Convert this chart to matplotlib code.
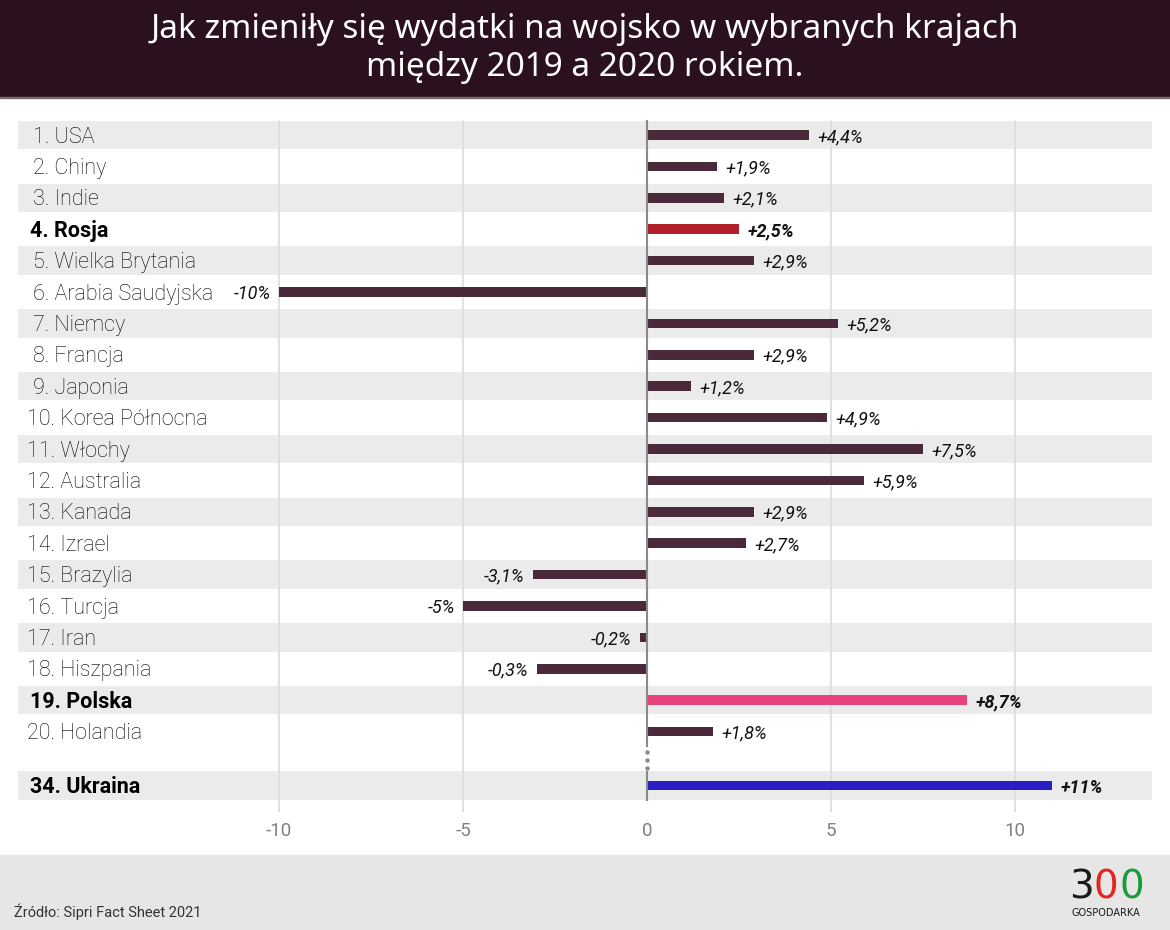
import matplotlib
matplotlib.use("Agg")
import matplotlib.pyplot as plt

# ---------------------------- Data ------------------------------------
countries = ["1. USA", "2. Chiny", "3. Indie", "4. Rosja", "5. Wielka Brytania",
             "6. Arabia Saudyjska", "7. Niemcy", "8. Francja", "9. Japonia",
             "10. Korea Północna", "11. Włochy", "12. Australia", "13. Kanada",
             "14. Izrael", "15. Brazylia", "16. Turcja", "17. Iran",
             "18. Hiszpania", "19. Polska", "20. Holandia", "34. Ukraina"]
values = [4.4, 1.9, 2.1, 2.5, 2.9, -10, 5.2, 2.9, 1.2, 4.9, 7.5, 5.9, 2.9,
          2.7, -3.1, -5, -0.2, -3.0, 8.7, 1.8, 11]
value_labels = ["+4,4%", "+1,9%", "+2,1%", "+2,5%", "+2,9%", "-10%", "+5,2%",
                "+2,9%", "+1,2%", "+4,9%", "+7,5%", "+5,9%", "+2,9%", "+2,7%",
                "-3,1%", "-5%", "-0,2%", "-0,3%", "+8,7%", "+1,8%", "+11%"]
highlight = {"4. Rosja": "#b01f2a", "19. Polska": "#e8437f", "34. Ukraina": "#2a1fc4"}
xticks = [-10, -5, 0, 5, 10]

# row slots (a short gap before Ukraina)
slots = list(range(20)) + [20.72]

W, H = 1170, 930
fig = plt.figure(figsize=(W / 100, H / 100), dpi=100)
fig.patch.set_facecolor("white")

# ------------------------ header / footer -----------------------------
fig.patches.append(plt.Rectangle((0, 1 - 97 / H), 1, 97 / H, transform=fig.transFigure,
                                 color="#2b111f", zorder=0))
fig.patches.append(plt.Rectangle((0, 1 - 98.5 / H), 1, 1.5 / H, transform=fig.transFigure,
                                 color="#7a6a72", zorder=0))
fig.text(0.5, 1 - 29 / H, "Jak zmieniły się wydatki na wojsko w wybranych krajach",
         color="white", fontsize=24, family="Noto Sans", ha="center", va="center")
fig.text(0.5, 1 - 68 / H, "między 2019 a 2020 rokiem.",
         color="white", fontsize=24, family="Noto Sans", ha="center", va="center")

fig.patches.append(plt.Rectangle((0, 0), 1, 75 / H, transform=fig.transFigure,
                                 color="#e6e6e6", zorder=0))
fig.text(14 / W, 1 - 912 / H, "Źródło: Sipri Fact Sheet 2021", fontsize=10.5,
         family="Roboto", color="#333333", ha="left", va="center")
# logo
fig.text(1069 / W, 1 - 887 / H, "3", fontsize=28, family="DejaVu Sans",
         color="#1a1a1a", ha="left", va="center")
fig.text(1093 / W, 1 - 887 / H, "0", fontsize=28, family="DejaVu Sans",
         color="#e8231f", ha="left", va="center")
fig.text(1119 / W, 1 - 887 / H, "0", fontsize=28, family="DejaVu Sans",
         color="#1a9b3a", ha="left", va="center")
fig.text(1106 / W, 1 - 913 / H, "GOSPODARKA", fontsize=7, family="DejaVu Sans",
         color="#1a1a1a", ha="center", va="center")

# --------------------------- chart ------------------------------------
x0, x1 = 18, 1152
xmin, xmax = (x0 - 647) / 36.8, (x1 - 647) / 36.8
step = 31.4
top, bottom = 135 - 0.5 * step, 812
ax = fig.add_axes([x0 / W, 1 - bottom / H, (x1 - x0) / W, (bottom - top) / H])
ax.set_xlim(xmin, xmax)
ax.set_ylim((bottom - 135) / step, -0.5)
for s in ax.spines.values():
    s.set_visible(False)
ax.set_yticks([])
ax.set_xticks(xticks)
ax.set_xticklabels([str(t) for t in xticks])
ax.tick_params(axis="x", length=0, labelsize=13.5, labelcolor="#808080", pad=7)
for lab in ax.get_xticklabels():
    lab.set_family("Roboto")

# stripes
for i, s in enumerate(slots):
    if i % 2 == 0 or i == len(slots) - 1:
        ax.axhspan(s - 0.45, s + 0.45, color="#ebebeb", zorder=0, lw=0)

# grid
for t in xticks:
    if t != 0:
        ax.axvline(t, ymin=0, ymax=1 - 0.05 / 22, color="#dcdcdc", lw=1.2, zorder=1)
ax.plot([0, 0], [-0.45, 19.45], color="#8a8a8a", lw=1.5, zorder=3)
ax.plot([0, 0], [20.3, slots[-1] + 0.45], color="#8a8a8a", lw=1.5, zorder=3)
ax.plot([0, 0, 0], [19.65, 19.9, 20.15], ls="none", marker="o", ms=2.2,
        color="#8a8a8a", zorder=3)

for c, v, lbl, s in zip(countries, values, value_labels, slots):
    color = highlight.get(c, "#4a2a3a")
    bold = c in highlight
    ax.barh(s, v, height=0.3, color=color, zorder=2)
    num = int(c.split(".")[0])
    tx = 30 if bold else (33 if num < 10 else 27)
    ax.text((tx - x0) / (x1 - x0), s + 0.24, c, transform=ax.get_yaxis_transform(),
            fontsize=15.5, family="Roboto", weight="bold" if bold else "light",
            color="black", ha="left", va="baseline")
    if v >= 0:
        ax.annotate(lbl, (v, s + 0.22), xytext=(6, 0), textcoords="offset points",
                    ha="left", va="baseline", fontsize=13, family="Roboto",
                    style="italic", weight="bold" if bold else "normal", color="#111111")
    else:
        ax.annotate(lbl, (v, s + 0.22), xytext=(-6, 0), textcoords="offset points",
                    ha="right", va="baseline", fontsize=13, family="Roboto",
                    style="italic", weight="bold" if bold else "normal", color="#111111")

fig.savefig("out.png", dpi=100)
